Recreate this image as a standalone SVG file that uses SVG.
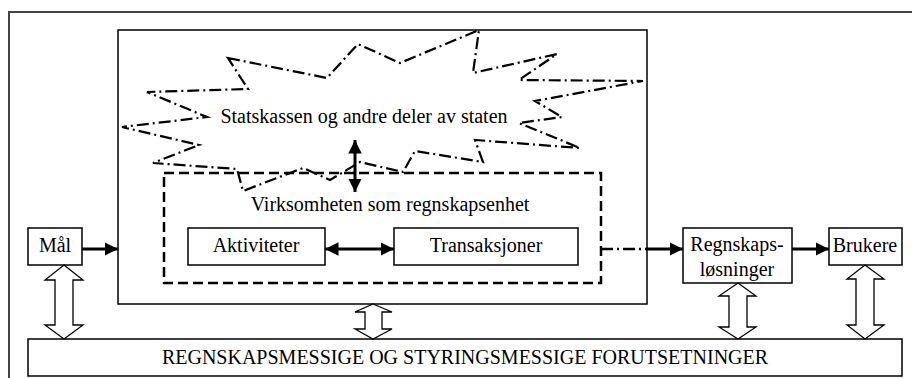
<svg xmlns="http://www.w3.org/2000/svg" width="912" height="378" viewBox="0 0 912 378">
<style>
.box{fill:#fff;stroke:#000;stroke-width:1.5}
.t{font-family:"Liberation Serif","Times New Roman",serif;font-size:20px;fill:#000;text-anchor:middle}
.solid{stroke:#000;stroke-width:3;fill:none}
.hollow{fill:#fff;stroke:#000;stroke-width:1.3}
.cloud{fill:none;stroke:#000;stroke-width:2.2;stroke-dasharray:12 4 2 4}
</style>
<defs>
<marker id="ah" viewBox="0 0 10 10" refX="10" refY="5" markerWidth="4.5" markerHeight="4.5" markerUnits="strokeWidth" orient="auto-start-reverse">
<path d="M0,0 L10,5 L0,10 z" fill="#000"/>
</marker>
</defs>
<rect width="912" height="378" fill="#fff"/>
<g id="frame"><path d="M9,378 V12 H912" fill="none" stroke="#444" stroke-width="2"/></g>
<g id="outer-box"><rect class="box" x="118" y="30" width="529" height="274"/></g>
<g id="cloud">
<polygon class="cloud" points="228,58 327,78 358,44 400,63 479,30 473,73 557,54 519,80 643,81 535,101 562,117 519,123 580,148 475,140 483,162 415,151 403,172 360,162 330,180 303,168 243,191 237,169 153,163 199,145 122,127 207,117 147,92 248,89"/>
<text class="t" x="364" y="123">Statskassen og andre deler av staten</text>
</g>
<g id="virksomheten">
<rect x="164" y="173" width="437" height="110" fill="none" stroke="#000" stroke-width="2.5" stroke-dasharray="10 5"/>
<text class="t" x="390" y="211">Virksomheten som regnskapsenhet</text>
</g>
<g id="aktiviteter"><rect class="box" x="188" y="228" width="137" height="37"/><text class="t" x="256" y="252">Aktiviteter</text></g>
<g id="transaksjoner"><rect class="box" x="394" y="228" width="184" height="37"/><text class="t" x="486" y="252">Transaksjoner</text></g>
<g id="maal"><rect class="box" x="28" y="228" width="54" height="37"/><text class="t" x="55" y="252">Mål</text></g>
<g id="regnskapslosninger"><rect class="box" x="683" y="228" width="109" height="55"/><text class="t" x="737" y="251">Regnskaps-</text><text class="t" x="737" y="276">løsninger</text></g>
<g id="brukere"><rect class="box" x="829" y="228" width="73" height="37"/><text class="t" x="865" y="252">Brukere</text></g>
<g id="forutsetninger"><rect class="box" x="28" y="339" width="874" height="37"/><text class="t" x="465" y="364">REGNSKAPSMESSIGE OG STYRINGSMESSIGE FORUTSETNINGER</text></g>
<g id="connectors">
<line class="solid" x1="355" y1="140" x2="355" y2="192" marker-start="url(#ah)" marker-end="url(#ah)"/>
<line class="solid" x1="325" y1="249" x2="394" y2="249" marker-start="url(#ah)" marker-end="url(#ah)"/>
<line class="solid" x1="82" y1="249" x2="118" y2="249" marker-end="url(#ah)"/>
<line x1="601" y1="249" x2="646" y2="249" stroke="#000" stroke-width="2.5" stroke-dasharray="12 4 2 4"/>
<line class="solid" x1="646" y1="249" x2="683" y2="249" marker-end="url(#ah)"/>
<line class="solid" x1="792" y1="249" x2="829" y2="249" marker-end="url(#ah)"/>
<polygon class="hollow" points="64,265 83,280 73,280 73,325 83,325 64,339 45,325 55,325 55,280 45,280"/>
<polygon class="hollow" points="373,304 392,312 382,312 382,329 392,329 373,339 355,329 365,329 365,312 355,312"/>
<polygon class="hollow" points="738,283 756,296 747,296 747,327 756,327 738,339 719,327 729,327 729,296 719,296"/>
<polygon class="hollow" points="865,265 884,279 874,279 874,325 884,325 865,339 847,325 856,325 856,279 847,279"/>
</g>
</svg>
